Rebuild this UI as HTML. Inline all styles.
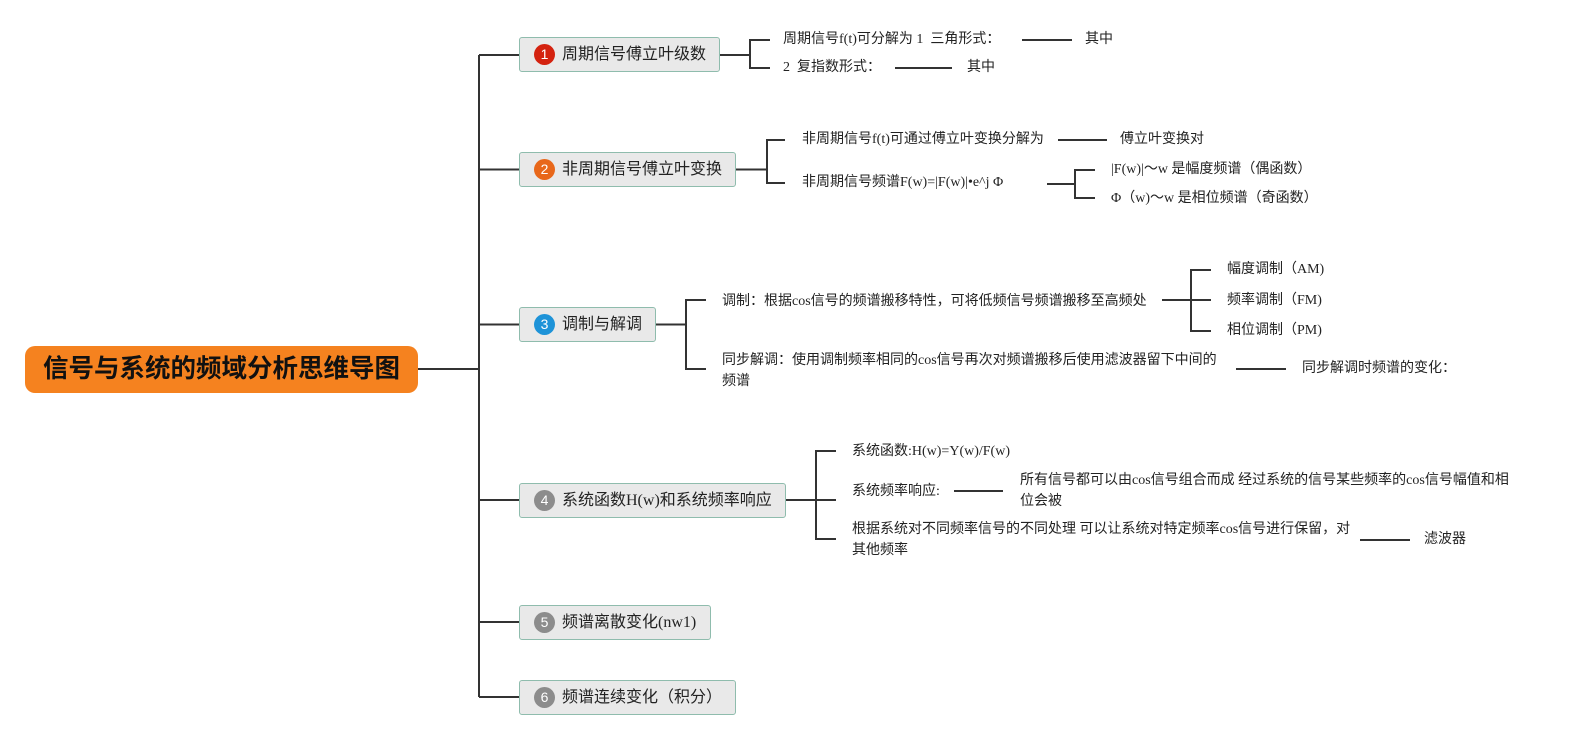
<!DOCTYPE html>
<html>
<head>
<meta charset="utf-8">
<style>
  html, body { margin: 0; padding: 0; background: #ffffff; }
  body { width: 1579px; height: 740px; position: relative; overflow: hidden; }
  .t { position: absolute; white-space: pre; font-family: "Liberation Serif", "Noto Sans CJK SC", serif; font-size: 14px; line-height: 20px; color: #222; }
  .t2 { line-height: 21px; }
  .box { position: absolute; height: 33px; background: #e9e9e9; border: 1px solid #8fbcad; border-radius: 3px; box-sizing: content-box; }
  .bl { position: absolute; left: 42px; top: 0; line-height: 33px; font-family: "Liberation Serif", "Noto Sans CJK SC", serif; font-size: 16px; color: #222; white-space: pre; }
  .badge { position: absolute; left: 14px; top: 6px; width: 21px; height: 21px; border-radius: 50%; color: #fff; font-family: "Liberation Sans", sans-serif; font-size: 14px; line-height: 21px; text-align: center; }
  .root { position: absolute; left: 25px; top: 346px; width: 393px; height: 47px; background: #f5821f; border-radius: 10px; text-align: center; line-height: 47px; font-family: "Liberation Sans", "Noto Sans CJK SC", sans-serif; font-weight: bold; font-size: 25.5px; color: #111; white-space: nowrap; }
</style>
</head>
<body>
<svg width="1579" height="740" style="position:absolute;left:0;top:0" xmlns="http://www.w3.org/2000/svg">
  <g fill="none" stroke="#333" stroke-width="2" stroke-linejoin="miter">
    <path d="M418 369 H479"/>
    <path d="M479 55 V697"/>
    <path d="M479 55 H519"/>
    <path d="M479 169.5 H519"/>
    <path d="M479 324.5 H519"/>
    <path d="M479 500 H519"/>
    <path d="M479 622 H519"/>
    <path d="M479 697 H519"/>
    <!-- branch 1 -->
    <path d="M720 55 H750"/>
    <path d="M770 40 H750 V68 H770"/>
    <path d="M1022 40 H1072"/>
    <path d="M895 68 H952"/>
    <!-- branch 2 -->
    <path d="M736 169.5 H767"/>
    <path d="M785 140 H767 V183 H785"/>
    <path d="M1058 140 H1107"/>
    <path d="M1047 184 H1075"/>
    <path d="M1095 170 H1075 V198 H1095"/>
    <!-- branch 3 -->
    <path d="M656 324.5 H686"/>
    <path d="M706 300 H686 V369 H706"/>
    <path d="M1162 300 H1211"/>
    <path d="M1211 270 H1191 V331 H1211"/>
    <path d="M1236 369 H1286"/>
    <!-- branch 4 -->
    <path d="M786 500 H836"/>
    <path d="M836 451 H816 V539 H836"/>
    <path d="M954 491 H1003"/>
    <path d="M1360 540 H1410"/>
  </g>
</svg>

<div class="root">信号与系统的频域分析思维导图</div>

<div class="box" style="left:519px;top:37px;width:199px;"><div class="badge" style="background:#d4220f;">1</div><div class="bl">周期信号傅立叶级数</div></div>
<div class="box" style="left:519px;top:152px;width:215px;"><div class="badge" style="background:#e8671a;">2</div><div class="bl">非周期信号傅立叶变换</div></div>
<div class="box" style="left:519px;top:307px;width:135px;"><div class="badge" style="background:#1e93d8;">3</div><div class="bl">调制与解调</div></div>
<div class="box" style="left:519px;top:483px;width:265px;"><div class="badge" style="background:#8c8c8c;">4</div><div class="bl">系统函数H(w)和系统频率响应</div></div>
<div class="box" style="left:519px;top:605px;width:190px;"><div class="badge" style="background:#8c8c8c;">5</div><div class="bl">频谱离散变化(nw1)</div></div>
<div class="box" style="left:519px;top:680px;width:215px;"><div class="badge" style="background:#8c8c8c;">6</div><div class="bl">频谱连续变化（积分）</div></div>

<!-- branch 1 texts -->
<div class="t" style="left:783px;top:30px;">周期信号f(t)可分解为 1  三角形式：</div>
<div class="t" style="left:1085px;top:30px;">其中</div>
<div class="t" style="left:783px;top:58px;">2  复指数形式：</div>
<div class="t" style="left:967px;top:58px;">其中</div>

<!-- branch 2 texts -->
<div class="t" style="left:802px;top:130px;">非周期信号f(t)可通过傅立叶变换分解为</div>
<div class="t" style="left:1120px;top:130px;">傅立叶变换对</div>
<div class="t" style="left:802px;top:173px;">非周期信号频谱F(w)=|F(w)|•e^j Φ</div>
<div class="t" style="left:1111px;top:160px;">|F(w)|〜w 是幅度频谱（偶函数）</div>
<div class="t" style="left:1111px;top:189px;">Φ（w)〜w 是相位频谱（奇函数）</div>

<!-- branch 3 texts -->
<div class="t" style="left:722px;top:292px;">调制：根据cos信号的频谱搬移特性，可将低频信号频谱搬移至高频处</div>
<div class="t" style="left:1227px;top:260px;">幅度调制（AM)</div>
<div class="t" style="left:1227px;top:291px;">频率调制（FM)</div>
<div class="t" style="left:1227px;top:321px;">相位调制（PM)</div>
<div class="t t2" style="left:722px;top:350px;">同步解调：使用调制频率相同的cos信号再次对频谱搬移后使用滤波器留下中间的
频谱</div>
<div class="t" style="left:1302px;top:359px;">同步解调时频谱的变化：</div>

<!-- branch 4 texts -->
<div class="t" style="left:852px;top:442px;">系统函数:H(w)=Y(w)/F(w)</div>
<div class="t" style="left:852px;top:482px;">系统频率响应:</div>
<div class="t t2" style="left:1020px;top:470px;">所有信号都可以由cos信号组合而成 经过系统的信号某些频率的cos信号幅值和相
位会被</div>
<div class="t t2" style="left:852px;top:519px;">根据系统对不同频率信号的不同处理 可以让系统对特定频率cos信号进行保留，对
其他频率</div>
<div class="t" style="left:1424px;top:530px;">滤波器</div>
</body>
</html>
